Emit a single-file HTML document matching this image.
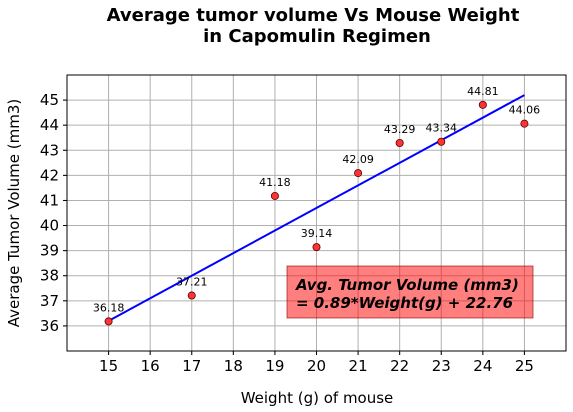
<!DOCTYPE html>
<html><head><meta charset="utf-8"><style>
body{margin:0;background:#fff;}
svg{display:block;font-family:"DejaVu Sans","Liberation Sans",sans-serif;}
</style></head><body>
<svg id="chart" width="573" height="412">
<text x="313" y="21" text-anchor="middle" font-size="18" font-weight="bold"><tspan x="313">Average tumor volume Vs Mouse Weight</tspan><tspan x="317" dy="21">in Capomulin Regimen</tspan></text>
<g id="grid"></g>
<g id="marks"></g>
<rect x="67" y="75" width="499" height="276" fill="none" stroke="#000" stroke-width="1"/>
<text x="317" y="403" text-anchor="middle" font-size="15">Weight (g) of mouse</text>
<text transform="translate(19,213) rotate(-90)" text-anchor="middle" font-size="15">Average Tumor Volume (mm3)</text>
<rect x="287" y="266" width="246" height="52" fill="#ff0000" fill-opacity="0.5" stroke="#800" stroke-opacity="0.6"/>
<text x="296" y="290" font-size="15" font-weight="bold" font-style="italic"><tspan x="296">Avg. Tumor Volume (mm3)</tspan><tspan x="296" dy="18">= 0.89*Weight(g) + 22.76</tspan></text>
</svg>
<script>
const weights=[15,17,19,20,21,22,23,24,25];
const volumes=[36.18,37.21,41.18,39.14,42.09,43.29,43.34,44.81,44.06];
const xTicks=[15,16,17,18,19,20,21,22,23,24,25];
const yTicks=[36,37,38,39,40,41,42,43,44,45];
const slope=0.9, intercept=22.7;
const NS="http://www.w3.org/2000/svg";
const X0=67,X1=566,Y0=351,Y1=75,xmin=14,xmax=26,ymin=35,ymax=46;
const sx=v=>X0+(v-xmin)/(xmax-xmin)*(X1-X0);
const sy=v=>Y0-(v-ymin)/(ymax-ymin)*(Y0-Y1);
function mk(t,a,p){const e=document.createElementNS(NS,t);for(const k in a)e.setAttribute(k,a[k]);p.appendChild(e);return e;}
const g=document.getElementById('grid'),m=document.getElementById('marks');
xTicks.forEach(t=>{
 const l=mk('line',{x1:sx(t),x2:sx(t),y1:Y1,y2:Y0+4,stroke:'#b0b0b0'},g);
 
 
 mk('line',{x1:sx(t),x2:sx(t),y1:Y0,y2:Y0+4,stroke:'#000'},g);
 const tx=mk('text',{x:sx(t),y:Y0+20,'text-anchor':'middle','font-size':15},g);tx.textContent=t;
 
 
});
yTicks.forEach(t=>{
 const l=mk('line',{x1:X0-4,x2:X1,y1:sy(t),y2:sy(t),stroke:'#b0b0b0'},g);
 
 
 mk('line',{x1:X0-4,x2:X0,y1:sy(t),y2:sy(t),stroke:'#000'},g);
 const tx=mk('text',{x:X0-8,y:sy(t)+5,'text-anchor':'end','font-size':15},g);tx.textContent=t;
 
 
});
const wmin=Math.min(...weights),wmax=Math.max(...weights);
const rl=mk('line',{x1:sx(wmin),y1:sy(slope*wmin+intercept),x2:sx(wmax),y2:sy(slope*wmax+intercept),stroke:'#0000ff','stroke-width':2},m);


weights.forEach((w,i)=>{
 const c=mk('circle',{cx:sx(w),cy:sy(volumes[i]),r:3.6,fill:'#ff3333',stroke:'#550000','stroke-width':0.8},m);
 
 
 const t=mk('text',{x:sx(w),y:sy(volumes[i])-10,'text-anchor':'middle','font-size':11},m);t.textContent=volumes[i].toFixed(2);
 
 
});
</script>
</body></html>
